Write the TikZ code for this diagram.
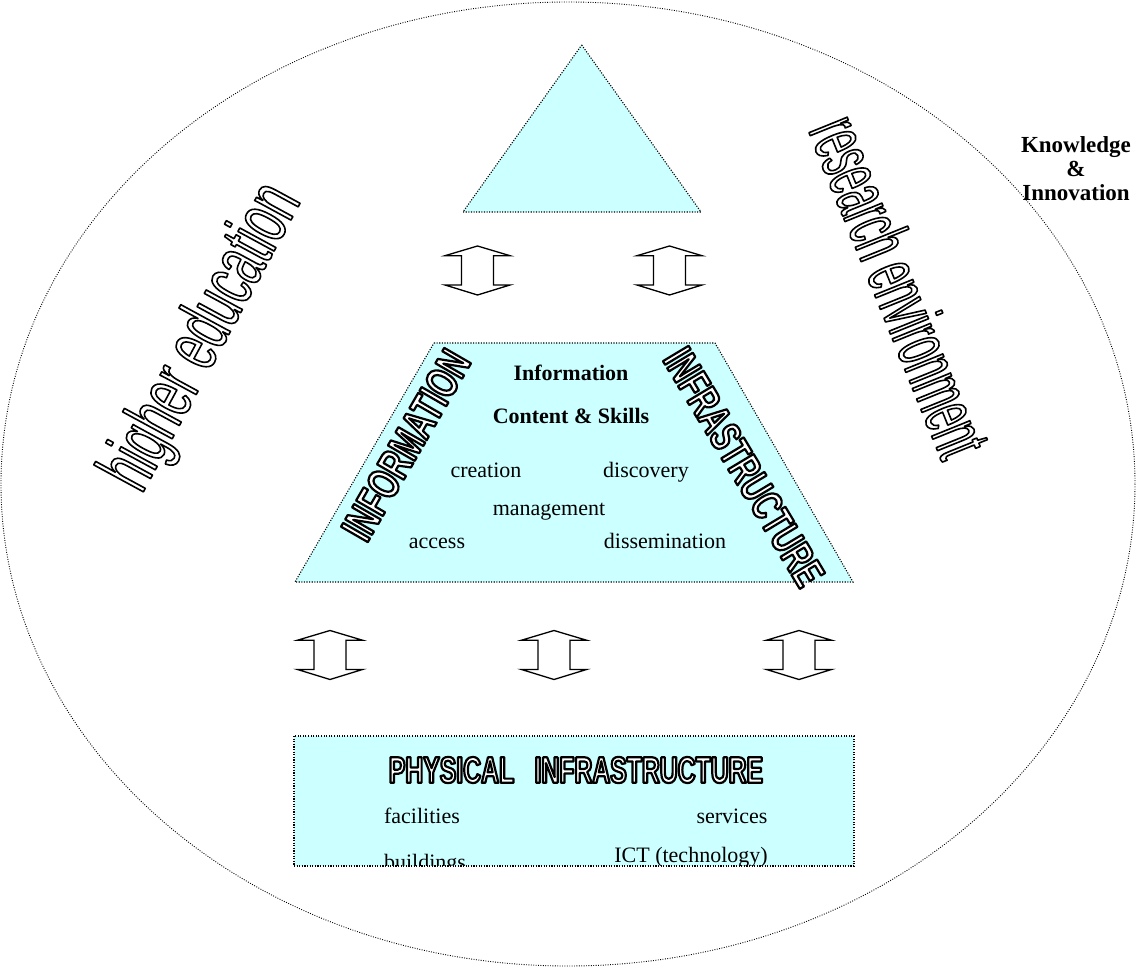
\documentclass[tikz,border=0pt]{standalone}
\usepackage{fontspec}
\setmainfont{Liberation Serif}
\newfontfamily\waboldfam[FakeStretch=0.67]{Liberation Sans}
\newfontfamily\wathinA[FakeStretch=0.58]{Liberation Sans}
\newfontfamily\wathinB[FakeStretch=0.475]{Liberation Sans}
\definecolor{paleblue}{HTML}{CCFFFF}
\newcommand{\wordart}[2]{{\color{white}\special{pdf:literal direct 2 Tr #1 w 0 G 1 j}#2\special{pdf:literal direct 0 Tr}}}
\tikzset{
  layer/.style={fill=paleblue, draw=black, line width=1.1pt, dash pattern=on 1.1pt off 1.5pt},
  world/.style={draw=black, line width=0.9pt, dash pattern=on 0.9pt off 1.5pt},
  serif/.style={font=\fontsize{22}{26}\selectfont, inner sep=0pt, anchor=base},
  serifbold/.style={font=\fontsize{22}{26}\selectfont\bfseries, inner sep=0pt, anchor=base},
  artnode/.style={inner sep=0pt, anchor=center},
  dblarrow/.style={draw=black, line width=1.3pt, fill=white, line join=miter},
  updown/.pic={\draw[dblarrow] (0,-24.5) -- (32.5,-14.8) -- (16,-14.8) -- (16,14.5) -- (32.5,14.5) -- (0,24.5) -- (-32.5,14.5) -- (-16,14.5) -- (-16,-14.8) -- (-32.5,-14.8) -- cycle;}
}
\begin{document}
\begin{tikzpicture}[x=1pt,y=-1pt]
\useasboundingbox (0,0) rectangle (1136,968);
% outer world
\draw[world] (568,484) ellipse [x radius=567, y radius=482];
% top triangle
\path[layer] (581.7,45) coordinate (apex) -- (701,212) coordinate (tr) -- (463,212) coordinate (tl) -- cycle;
% trapezoid
\path[layer] (434,343) coordinate (ztl) -- (715,343) coordinate (ztr) -- (853,582) coordinate (zbr) -- (295,582) coordinate (zbl) -- cycle;
% physical box
\path[layer] (294,736) coordinate (btl) rectangle (854,866) coordinate (bbr);
% arrows
\pic at (477.5,270.5) {updown};
\pic at (669.5,270.5) {updown};
\pic at (330,655) {updown};
\pic at (554,655) {updown};
\pic at (799,655) {updown};
% side labels
\node[artnode, rotate=61.5] (he) at (204,338) {\wordart{1.6}{\wathinA\fontsize{78}{80}\selectfont higher education}};
\node[artnode, rotate=-68] (re) at (901,286) {\wordart{1.6}{\wathinB\fontsize{78}{80}\selectfont research environment}};
\node[font=\fontsize{23}{24}\selectfont\bfseries, align=center, inner sep=0pt, anchor=north] (ki) at (1076,136) {Knowledge\\\&\\Innovation};
% trapezoid labels
\node[artnode, rotate=60] (infl) at (406,445) {\wordart{2.2}{\waboldfam\bfseries\fontsize{45}{48}\selectfont INFORMATION}};
\node[artnode, rotate=-59] (infr) at (744,467) {\wordart{2.2}{\waboldfam\bfseries\fontsize{43.5}{48}\selectfont INFRASTRUCTURE}};
\node[serifbold] (info) at (571,381) {Information};
\node[serifbold] (cs) at (571,424) {Content \& Skills};
\node[serif] (cre) at (486,477) {creation};
\node[serif] (dis) at (646,477) {discovery};
\node[serif] (man) at (549,515) {management};
\node[serif] (acc) at (437,548) {access};
\node[serif] (dsm) at (665,548) {dissemination};
% physical box labels
\node[artnode] (phys) at (576,770) {\wordart{2.2}{\waboldfam\bfseries\fontsize{37}{40}\selectfont PHYSICAL\hspace{0.55em}INFRASTRUCTURE}};
\node[serif] (fac) at (422,823) {facilities};
\node[serif] (ser) at (732,823) {services};
\begin{scope}
\clip (294,736) rectangle (854,865);
\node[serif] (ict) at (691,862) {ICT (technology)};
\node[serif] (bui) at (425,869) {buildings};
\end{scope}
\end{tikzpicture}
\end{document}
